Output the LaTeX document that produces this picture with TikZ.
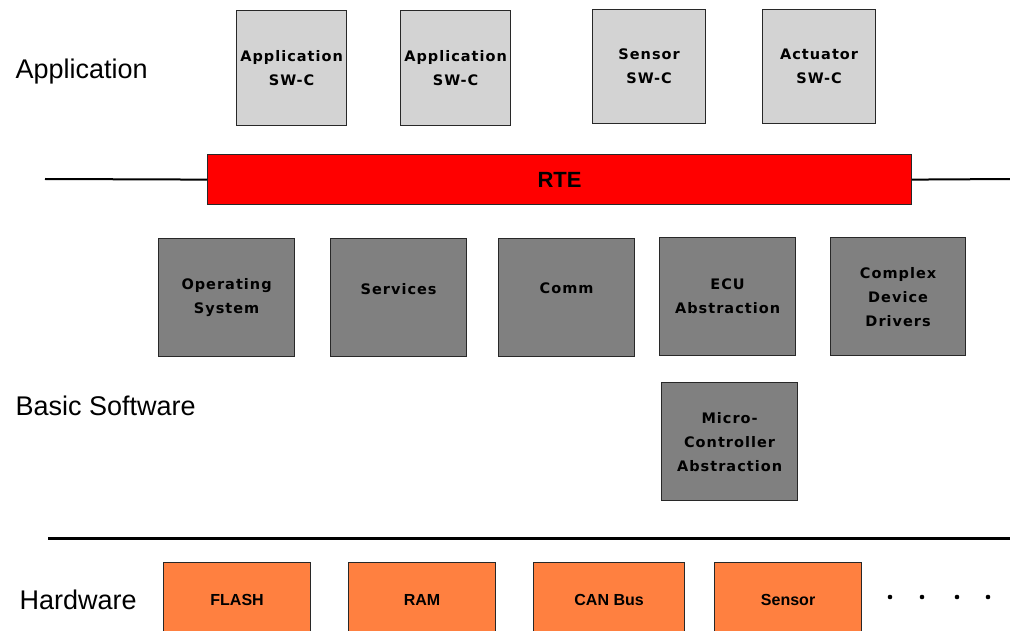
\documentclass[tikz,border=0pt]{standalone}
\usepackage{fontspec}
\setmainfont{Liberation Sans}
\newfontfamily\swfont[LetterSpace=7]{DejaVu Sans}
\definecolor{appgray}{RGB}{211,211,211}
\definecolor{bswgray}{RGB}{128,128,128}
\definecolor{rtered}{RGB}{255,0,0}
\definecolor{hworange}{RGB}{255,128,64}
\definecolor{edgegray}{RGB}{40,40,40}

\begin{document}
\begin{tikzpicture}[x=1pt, y=-1pt,
  swbox/.style={draw=edgegray, line width=1.2pt, anchor=north west, inner sep=0pt,
                align=center, minimum width=136, minimum height=118,
                font=\swfont\bfseries\fontsize{14.5}{24}\selectfont},
  appbox/.style={swbox, fill=appgray, minimum width=110, minimum height=115},
  bswbox/.style={swbox, fill=bswgray},
  hwbox/.style={swbox, fill=hworange, minimum width=147, minimum height=74,
                font=\bfseries\fontsize{16}{20}\selectfont},
  liftup/.style={text depth=18pt},
  layer/.style={anchor=base west, font=\fontsize{27}{30}\selectfont},
  rule/.style={line width=2pt, black}]
  \clip (0,0) rectangle (1010,631);

  % Layer names
  \node[layer] (lapp) at (12,79) {Application};
  \node[layer] (lbsw) at (12,415) {Basic Software};
  \node[layer] (lhw) at (16,609) {Hardware};

  % Application layer
  \node[appbox] (app1) at (236,10) {Application\\SW-C};
  \node[appbox] (app2) at (400,10) {Application\\SW-C};
  \node[appbox, minimum width=113, minimum height=114] (sens) at (592,9) {Sensor\\SW-C};
  \node[appbox, minimum width=113, minimum height=114] (act) at (762,9) {Actuator\\SW-C};

  % RTE
  \node[draw=edgegray, line width=1.2pt, fill=rtered, anchor=north west,
        minimum width=704, minimum height=50,
        font=\bfseries\fontsize{22}{24}\selectfont] (rte) at (207,154) {RTE};
  \coordinate (rteL) at (45,179);
  \coordinate (rteR) at (1012,179);
  \draw[rule] (rteL) -- (rte.west);
  \draw[rule] (rte.east) -- (rteR);

  % Basic software
  \node[bswbox] (os) at (158,238) {Operating\\System};
  \node[bswbox, liftup] (srv) at (330,238) {Services};
  \node[bswbox, liftup] (comm) at (498,238) {Comm};
  \node[bswbox] (ecu) at (659,237) {ECU\\Abstraction};
  \node[bswbox, minimum width=135] (cdd) at (830,237) {Complex\\Device\\Drivers};
  \node[bswbox] (mcal) at (661,382) {Micro-\\Controller\\Abstraction};

  % Hardware
  \coordinate (hwL) at (48,538);
  \coordinate (hwR) at (1012,538);
  \draw[line width=3pt] (hwL) -- (hwR);
  \node[hwbox] (flash) at (163,562) {FLASH};
  \node[hwbox] (ram) at (348,562) {RAM};
  \node[hwbox, minimum width=151] (can) at (533,562) {CAN Bus};
  \node[hwbox] (hwsens) at (714,562) {Sensor};
  \foreach \dx in {890,922,957,988}
    \fill (\dx,597) circle (2.3);
\end{tikzpicture}
\end{document}
